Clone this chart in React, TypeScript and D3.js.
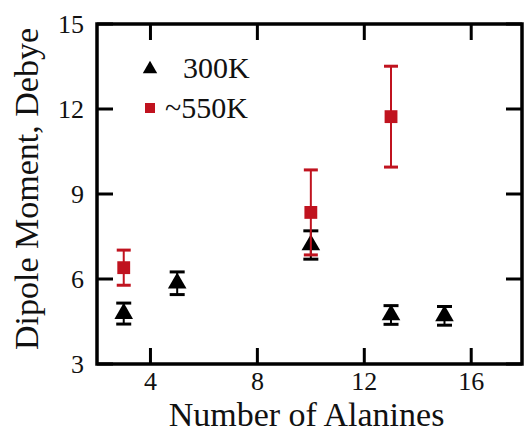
import React from "react";
import * as d3 from "d3";

const xTicks = [4, 8, 12, 16];
const yTicks = [3, 6, 9, 12, 15];

const lowT = { x: [3, 5, 10, 13, 15], y: [4.78, 5.85, 7.2, 4.73, 4.7], err: [0.37, 0.4, 0.5, 0.33, 0.33] };
const highT = { x: [3, 10, 13], y: [6.4, 8.35, 11.73], err: [0.62, 1.5, 1.78] };

const W = 524, H = 432;
const M = { left: 97, right: 522, top: 24, bottom: 364 };
const RED = "#c0131f";
const FONT = "'Liberation Serif', 'Times New Roman', serif";

export default function App() {
  const x = d3.scaleLinear().domain([2, 17.9]).range([M.left, M.right]);
  const y = d3.scaleLinear().domain([3, 15]).range([M.bottom, M.top]);
  const tri = d3.symbol().type(d3.symbolTriangle).size(150)() as string;
  const triLeg = d3.symbol().type(d3.symbolTriangle).size(90)() as string;
  const sq = d3.symbol().type(d3.symbolSquare).size(165)() as string;
  const sqLeg = d3.symbol().type(d3.symbolSquare).size(100)() as string;
  const tl = 16;

  const errBar = (cx: number, cy: number, e: number, color: string, key: string, cap: number) => (
    <g key={key} stroke={color}>
      <line x1={x(cx)} x2={x(cx)} y1={y(cy + e)} y2={y(cy - e)} strokeWidth={2} />
      <line x1={x(cx) - cap} x2={x(cx) + cap} y1={y(cy + e)} y2={y(cy + e)} strokeWidth={3} />
      <line x1={x(cx) - cap} x2={x(cx) + cap} y1={y(cy - e)} y2={y(cy - e)} strokeWidth={3} />
    </g>
  );

  return (
    <svg width={W} height={H} style={{ position: "absolute", left: 0, top: 0, background: "#fff" }}>
      <rect x={0} y={0} width={W} height={H} fill="#fff" />
      {/* ticks */}
      {xTicks.map((t) => (
        <g key={"xt" + t} stroke="#000" strokeWidth={3}>
          <line x1={x(t)} x2={x(t)} y1={M.bottom} y2={M.bottom - tl} />
          <line x1={x(t)} x2={x(t)} y1={M.top} y2={M.top + tl} />
        </g>
      ))}
      {yTicks.map((t) => (
        <g key={"yt" + t} stroke="#000" strokeWidth={3}>
          <line x1={M.left} x2={M.left + tl} y1={y(t)} y2={y(t)} />
          <line x1={M.right} x2={M.right - tl} y1={y(t)} y2={y(t)} />
        </g>
      ))}
      <rect x={M.left} y={M.top} width={M.right - M.left} height={M.bottom - M.top} fill="none" stroke="#000" strokeWidth={3.5} />
      {xTicks.map((t) => (
        <text key={"xl" + t} x={x(t)} y={390} textAnchor="middle" fontFamily={FONT} fontSize={26} fill="#111">{t}</text>
      ))}
      {yTicks.map((t) => (
        <text key={"yl" + t} x={84} y={y(t) + 9} textAnchor="end" fontFamily={FONT} fontSize={26} fill="#111">{t}</text>
      ))}
      <text x={(M.left + M.right) / 2 - 3} y={426} textAnchor="middle" fontFamily={FONT} fontSize={34} fill="#111">Number of Alanines</text>
      <text transform={`translate(38, 189) rotate(-90)`} textAnchor="middle" fontFamily={FONT} fontSize={34} fill="#111">Dipole Moment, Debye</text>

      {/* 300K */}
      {lowT.x.map((v, i) => errBar(v, lowT.y[i], lowT.err[i], "#000", "le" + i, 7.5))}
      {lowT.x.map((v, i) => (
        <path key={"lp" + i} d={tri} transform={`translate(${x(v)},${y(lowT.y[i])})`} fill="#000" />
      ))}
      {/* ~550K */}
      {highT.x.map((v, i) => errBar(v, highT.y[i], highT.err[i], RED, "he" + i, 7))}
      {highT.x.map((v, i) => (
        <path key={"hp" + i} d={sq} transform={`translate(${x(v)},${y(highT.y[i])})`} fill={RED} />
      ))}

      {/* legend */}
      <path d={triLeg} transform="translate(150,69)" fill="#000" />
      <text x={183} y={78} fontFamily={FONT} fontSize={30} fill="#111">300K</text>
      <path d={sqLeg} transform="translate(150,108)" fill={RED} />
      <text x={165} y={118} fontFamily={FONT} fontSize={30} fill="#111">~550K</text>
    </svg>
  );
}
